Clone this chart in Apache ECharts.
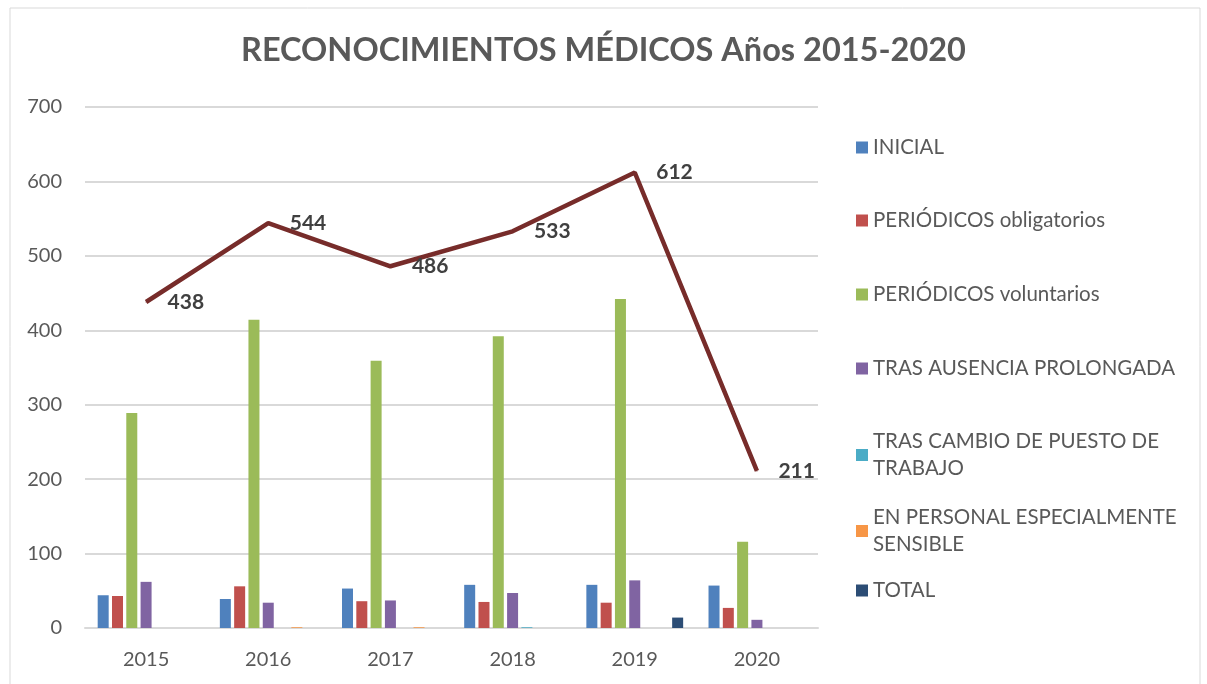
<!DOCTYPE html>
<html>
<head>
<meta charset="utf-8">
<script src="https://cdn.jsdelivr.net/npm/echarts@6/dist/echarts.min.js"></script>
<style>
  html, body { margin: 0; padding: 0; background: #fff; }
  #chart { width: 1207px; height: 684px; }
</style>
</head>
<body>
<div id="chart"></div>
<script>
// Data
var years = ['2015', '2016', '2017', '2018', '2019', '2020'];
var inicial = [44, 39, 53, 58, 58, 57];
var obligatorios = [43, 56, 36, 35, 34, 27];
var voluntarios = [289, 414, 359, 392, 442, 116];
var ausencia = [62, 34, 37, 47, 64, 11];
var cambioPuesto = [0, 0, 0, 1, 0, 0];
var sensible = [0, 1, 1, 0, 0, 0];
var totalBar = [0, 0, 0, 0, 14, 0];
var totalLine = [438, 544, 486, 533, 612, 211];

var seriesNames = [
    'INICIAL',
    'PERIÓDICOS obligatorios',
    'PERIÓDICOS voluntarios',
    'TRAS AUSENCIA PROLONGADA',
    'TRAS CAMBIO DE PUESTO DE\nTRABAJO',
    'EN PERSONAL ESPECIALMENTE\nSENSIBLE',
    'TOTAL'
];
var seriesData = [inicial, obligatorios, voluntarios, ausencia, cambioPuesto, sensible, totalBar];
var colors = ['#4f81bd', '#c0504d', '#9bbb59', '#8064a2', '#4bacc6', '#f79646', '#2c4d75'];

var fontFamily = 'Lato, "Open Sans", sans-serif';
var textColor = '#595959';

var chartElement = document.getElementById('chart');
var chart = echarts.init(chartElement);

// Build one legend per item so two-line entries keep their slot
var legendTops = [134, 207, 281, 355, 401, 477, 577];
var legends = seriesNames.map(function (name, i) {
    var twoLine = name.indexOf('\n') >= 0;
    return {
        data: [name],
        left: 856,
        top: legendTops[i],
        orient: 'vertical',
        itemWidth: 12,
        itemHeight: 12,
        itemGap: 7,
        padding: 0,
        selectedMode: false,
        icon: 'rect',
        textStyle: {
            color: textColor,
            fontFamily: fontFamily,
            fontSize: 20.5,
            lineHeight: 27,
            padding: twoLine ? [54, 0, 0, 0] : 0
        }
    };
});

var barSeries = seriesNames.map(function (name, i) {
    return {
        name: name,
        type: 'bar',
        data: seriesData[i],
        barWidth: 11,
        barGap: '30%',
        itemStyle: { color: colors[i] }
    };
});

chart.setOption({
    animation: false,
    color: colors,
    textStyle: { fontFamily: fontFamily },

    // Outer border
    graphic: [{
        type: 'rect',
        shape: { x: 10, y: 8, width: 1190, height: 690 },
        style: { fill: 'none', stroke: '#d9d9d9', lineWidth: 1 },
        silent: true
    }],

    title: {
        text: 'RECONOCIMIENTOS MÉDICOS Años 2015-2020',
        left: 'center',
        top: 29,
        textStyle: {
            color: textColor,
            fontFamily: fontFamily,
            fontSize: 32.5,
            fontWeight: 'bold'
        }
    },

    legend: legends,

    grid: {
        left: 85,
        right: 389,
        top: 107,
        bottom: 56
    },

    xAxis: {
        type: 'category',
        data: years,
        axisTick: { show: false },
        axisLine: { lineStyle: { color: '#d9d9d9', width: 2 } },
        axisLabel: {
            color: textColor,
            fontSize: 20,
            fontFamily: fontFamily,
            margin: 22
        }
    },

    yAxis: {
        type: 'value',
        min: 0,
        max: 700,
        interval: 100,
        axisLine: { show: false },
        axisTick: { show: false },
        axisLabel: {
            color: textColor,
            fontSize: 20,
            fontFamily: fontFamily,
            margin: 23
        },
        splitLine: { lineStyle: { color: '#d9d9d9', width: 2 } }
    },

    series: barSeries.concat([{
        name: 'Total anual',
        type: 'line',
        data: totalLine,
        symbol: 'circle',
        symbolSize: 1,
        showSymbol: true,
        lineStyle: { color: '#772c2a', width: 4.5 },
        itemStyle: { color: '#772c2a' },
        label: {
            show: true,
            position: 'right',
            distance: 21,
            color: '#404040',
            fontFamily: fontFamily,
            fontSize: 21,
            fontWeight: 'bold'
        },
        z: 5
    }])
});

// Resize
window.addEventListener('resize', function () {
    chart.resize();
});
</script>
</body>
</html>
